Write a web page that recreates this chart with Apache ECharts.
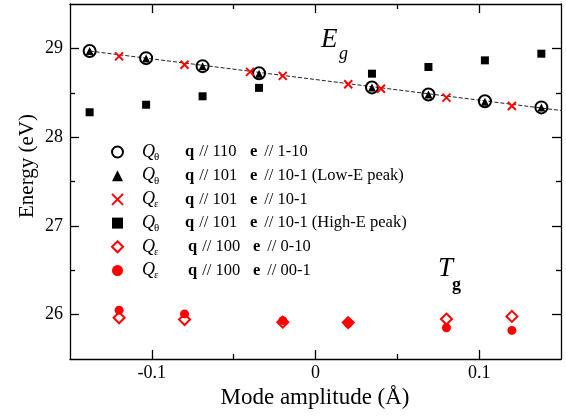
<!DOCTYPE html>
<html>
<head>
<meta charset="utf-8">
<script src="https://cdn.jsdelivr.net/npm/echarts@6/dist/echarts.min.js"></script>
<style>html,body{margin:0;padding:0;background:#fff;}#c{width:566px;height:419px;}</style>
</head>
<body>
<div id="c"></div>
<script>
// ---- data ----
var xQ = [-0.138, -0.1035, -0.069, -0.0345, 0.0345, 0.069, 0.1035, 0.138];
var eCircle110 = [28.97, 28.89, 28.80, 28.72, 28.56, 28.48, 28.405, 28.335];
var eTriLow = [28.97, 28.885, 28.80, 28.715, 28.56, 28.48, 28.40, 28.335];
var eSquareHigh = [28.28, 28.365, 28.46, 28.555, 28.715, 28.79, 28.865, 28.94];
var xEps101 = [-0.12, -0.08, -0.04, -0.02, 0.02, 0.04, 0.08, 0.12];
var eCross101 = [28.91, 28.815, 28.735, 28.69, 28.595, 28.545, 28.445, 28.35];
var xEps100 = [-0.12, -0.08, -0.02, 0.02, 0.08, 0.12];
var eDiamond010 = [25.965, 25.945, 25.915, 25.91, 25.95, 25.98];
var eDot001 = [26.05, 26.008, 25.932, 25.902, 25.852, 25.822];
var fitX = [-0.138, 0.15];
var fitE = [28.97, 28.30];
var xMajor = [-0.1, 0, 0.1];
var xMinor = [-0.05, 0.05];
var yMajor = [26, 27, 28, 29];
var yMinor = [26.5, 27.5, 28.5];
var legendRows = [
  {name: 'c1', sub: 'θ', q: '110', e: '1-10', extra: ''},
  {name: 't2', sub: 'θ', q: '101', e: '10-1', extra: ' (Low-E peak)'},
  {name: 'x3', sub: 'ε', q: '101', e: '10-1', extra: ''},
  {name: 's4', sub: 'θ', q: '101', e: '10-1', extra: ' (High-E peak)'},
  {name: 'd5', sub: 'ε', q: '100', e: '0-10', extra: ''},
  {name: 'f6', sub: 'ε', q: '100', e: '00-1', extra: ''}
];

function pairs(xs, ys) { return xs.map(function (x, i) { return [x, ys[i]]; }); }

var SERIF = '"Liberation Serif","DejaVu Serif",serif';
var RED = '#ff0000';
var crossPath = 'path://M0,0L10,10M0,10L10,0';

var chart = echarts.init(document.getElementById('c'), null, {renderer: 'canvas'});

function xAx(grid, pos, vals, len, withLine, withLabel) {
  return {
    type: 'value', gridIndex: grid, position: pos, min: -0.15, max: 0.15,
    axisLine: {show: withLine, onZero: false, lineStyle: {color: '#000', width: 1.3}},
    axisTick: {show: true, inside: true, length: len, customValues: vals, lineStyle: {color: '#000', width: 1.3}},
    axisLabel: {show: withLabel, customValues: vals, margin: 5, color: '#000', fontFamily: SERIF, fontSize: 18,
      formatter: function (v) { return v === 0 ? '0' : String(Math.round(v * 10) / 10); }},
    splitLine: {show: false}
  };
}
function yAx(grid, pos, vals, len, withLine, withLabel) {
  return {
    type: 'value', gridIndex: grid, position: pos, min: 25.5, max: 29.5,
    axisLine: {show: withLine, onZero: false, lineStyle: {color: '#000', width: 1.3}},
    axisTick: {show: true, inside: true, length: len, customValues: vals, lineStyle: {color: '#000', width: 1.3}},
    axisLabel: {show: withLabel, customValues: vals, margin: 7, color: '#000', fontFamily: SERIF, fontSize: 18},
    splitLine: {show: false}
  };
}

var legendData = [
  {name: 'c1', icon: 'circle', itemStyle: {color: 'rgba(0,0,0,0)', borderColor: '#000', borderWidth: 2, opacity: 1}},
  {name: 't2', icon: 'triangle', itemStyle: {color: '#000', borderWidth: 0, opacity: 1}},
  {name: 'x3', icon: crossPath, itemStyle: {color: 'none', borderColor: RED, borderWidth: 2, opacity: 1}},
  {name: 's4', icon: 'rect', itemStyle: {color: '#000', borderWidth: 0, opacity: 1}},
  {name: 'd5', icon: 'diamond', itemStyle: {color: 'rgba(0,0,0,0)', borderColor: RED, borderWidth: 2, opacity: 1}},
  {name: 'f6', icon: 'circle', itemStyle: {color: RED, borderWidth: 0, opacity: 1}}
];

var option = {
  animation: false,
  backgroundColor: '#fff',
  grid: [
    {left: 70, right: 5, top: 4, bottom: 60, containLabel: false},
    {left: 70, right: 5, top: 4, bottom: 60, containLabel: false}
  ],
  xAxis: [
    xAx(0, 'bottom', xMajor, 9, true, true),
    xAx(0, 'top', xMajor, 9, true, false),
    xAx(1, 'bottom', xMinor, 5, false, false),
    xAx(1, 'top', xMinor, 5, false, false)
  ],
  yAxis: [
    yAx(0, 'left', yMajor, 9, true, true),
    yAx(0, 'right', yMajor, 9, true, false),
    yAx(1, 'left', yMinor, 5, false, false),
    yAx(1, 'right', yMinor, 5, false, false)
  ],
  legend: {
    orient: 'vertical', left: 109.5, top: 143, padding: 0, itemGap: 4.2,
    itemWidth: 11, itemHeight: 11, selectedMode: false,
    data: legendData,
    textStyle: {
      color: '#000', fontFamily: SERIF, fontSize: 16,
      rich: {
        p: {width: 14},
        Q: {fontFamily: SERIF, fontStyle: 'italic', fontSize: 18, width: 12, color: '#000'},
        s: {fontFamily: SERIF, fontSize: 11, width: 31, padding: [10, 0, 0, 0], color: '#000'},
        s2: {fontFamily: SERIF, fontSize: 11, width: 34, padding: [10, 0, 0, 0], color: '#000'},
        b: {fontFamily: SERIF, fontWeight: 'bold', fontSize: 16.5, width: 10, color: '#000'},
        t: {fontFamily: SERIF, fontSize: 16.5, width: 55, color: '#000'},
        r: {fontFamily: SERIF, fontSize: 16.5, color: '#000'}
      }
    },
    formatter: function (name) {
      var row = legendRows.filter(function (r) { return r.name === name; })[0];
      var sk = (row.q === '100') ? 's2' : 's';
      return '{p| }{Q|Q}{' + sk + '|' + row.sub + '}{b|q}{t| // ' + row.q + '}{b|e}{r| // ' + row.e + row.extra + '}';
    }
  },
  series: [
    {type: 'line', name: 'fit', xAxisIndex: 0, yAxisIndex: 0, data: pairs(fitX, fitE), showSymbol: false, symbol: 'none',
      lineStyle: {color: '#222', width: 1, type: [4, 2]}, z: 1, silent: true},
    {type: 'scatter', name: 'c1', xAxisIndex: 0, yAxisIndex: 0, data: pairs(xQ, eCircle110), symbol: 'circle', symbolSize: 12,
      itemStyle: {color: 'rgba(0,0,0,0)', borderColor: '#000', borderWidth: 2, opacity: 1}, z: 3},
    {type: 'scatter', name: 't2', xAxisIndex: 0, yAxisIndex: 0, data: pairs(xQ, eTriLow), symbol: 'triangle', symbolSize: 8,
      itemStyle: {color: '#000', opacity: 1}, z: 4},
    {type: 'scatter', name: 'x3', xAxisIndex: 0, yAxisIndex: 0, data: pairs(xEps101, eCross101), symbol: crossPath, symbolSize: 8,
      itemStyle: {color: 'none', borderColor: RED, borderWidth: 2, opacity: 1}, z: 5},
    {type: 'scatter', name: 's4', xAxisIndex: 0, yAxisIndex: 0, data: pairs(xQ, eSquareHigh), symbol: 'rect', symbolSize: 8,
      itemStyle: {color: '#000', opacity: 1}, z: 4},
    {type: 'scatter', name: 'd5', xAxisIndex: 0, yAxisIndex: 0, data: pairs(xEps100, eDiamond010), symbol: 'diamond', symbolSize: 11,
      itemStyle: {color: 'rgba(0,0,0,0)', borderColor: RED, borderWidth: 2, opacity: 1}, z: 4},
    {type: 'scatter', name: 'f6', xAxisIndex: 0, yAxisIndex: 0, data: pairs(xEps100, eDot001), symbol: 'circle', symbolSize: 9,
      itemStyle: {color: RED, opacity: 1}, z: 3}
  ],
  graphic: [
    {type: 'text', x: 321, y: 39.5, style: {text: 'E', font: 'italic 27px ' + SERIF, fill: '#000', textAlign: 'left', verticalAlign: 'middle'}},
    {type: 'text', x: 339, y: 54.5, style: {text: 'g', font: 'italic 18px ' + SERIF, fill: '#000', textAlign: 'left', verticalAlign: 'middle'}},
    {type: 'text', x: 438, y: 268.5, style: {text: 'T', font: 'italic 27px ' + SERIF, fill: '#000', textAlign: 'left', verticalAlign: 'middle'}},
    {type: 'text', x: 452, y: 285, style: {text: 'g', font: 'bold 18px ' + SERIF, fill: '#000', textAlign: 'left', verticalAlign: 'middle'}},
    {type: 'text', x: 27, y: 166, rotation: Math.PI / 2, style: {text: 'Energy (eV)', font: '21px ' + SERIF, fill: '#000', textAlign: 'center', verticalAlign: 'middle'}},
    {type: 'text', x: 315, y: 398, style: {text: 'Mode amplitude (Å)', font: '23px ' + SERIF, fill: '#000', textAlign: 'center', verticalAlign: 'middle'}}
  ]
};
chart.setOption(option);
</script>
</body>
</html>
